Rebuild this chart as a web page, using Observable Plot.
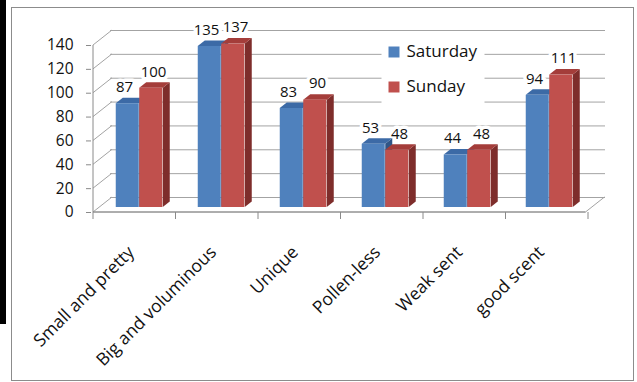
<!DOCTYPE html>
<html>
<head>
<meta charset="utf-8">
<script src="https://cdn.jsdelivr.net/npm/d3@7"></script>
<script src="https://cdn.jsdelivr.net/npm/@observablehq/plot@0.6"></script>
<style>
  html, body { margin: 0; padding: 0; background: #fff; }
  #wrap { position: relative; width: 637px; height: 382px; overflow: hidden; }
  #chart svg { display: block; }
  #edge { position: absolute; left: 0; top: 0; width: 6px; height: 324px; background: #000; }
  #border { position: absolute; left: 11px; top: 7px; width: 621px; height: 372px;
            border: 1px solid #8c8c8c; pointer-events: none; }
</style>
</head>
<body>
<div id="wrap">
  <div id="chart"></div>
  <div id="edge"></div>
  <div id="border"></div>
</div>
<script>
// Survey answers per flower attribute, counted on each day
const categories = ["Small and pretty", "Big and voluminous", "Unique", "Pollen-less", "Weak sent", "good scent"];
const saturday = [87, 135, 83, 53, 44, 94];
const sunday = [100, 137, 90, 48, 48, 111];
const seriesNames = ["Saturday", "Sunday"];
const yTicks = [0, 20, 40, 60, 80, 100, 120, 140];

const rows = categories.map((category, i) => ({category, saturday: saturday[i], sunday: sunday[i]}));

// Layout of the pseudo-3D box
const W = 637, H = 382;
const M = {left: 91, right: 51, top: 45, bottom: 170};
const BW = (W - M.left - M.right) / categories.length;   // band width
const WALL = {dx: 19, dy: -15};                           // back wall offset
const BAR = {dx: 5, dy: -5, w: 23.5};                      // bar placement inside the box
const FACE = {dx: 7, dy: -5.5};                           // bar depth
const FONT = "'Open Sans', sans-serif";

const palette = {
  Saturday: {front: "#4F81BD", top: "#3C6AA6", side: "#2F5587"},
  Sunday:   {front: "#C0504D", top: "#A43D3A", side: "#7E2D2B"}
};
const gridColor = "#A3A3A3";
const axisColor = "#8A8A8A";
const textColor = "#111111";

// Walls, floor and category boundary ticks
function boxLines(index, {x, y}) {
  const g = d3.create("svg:g").attr("fill", "none").attr("stroke-width", 1);
  const left = x(categories[0]);
  const right = x(categories[categories.length - 1]) + BW;
  const y0 = y(0);
  for (const t of yTicks) {
    g.append("line")
      .attr("x1", left).attr("y1", y(t))
      .attr("x2", left + WALL.dx).attr("y2", y(t) + WALL.dy)
      .attr("stroke", gridColor);
  }
  g.append("path")
    .attr("d", `M${left},${y0}H${right}l${WALL.dx},${WALL.dy}`)
    .attr("stroke", gridColor);
  g.append("line")
    .attr("x1", left).attr("y1", y0)
    .attr("x2", left).attr("y2", y(d3.max(yTicks)))
    .attr("stroke", axisColor);
  g.append("line")
    .attr("x1", left).attr("y1", y0).attr("x2", right).attr("y2", y0)
    .attr("stroke", axisColor);
  for (let i = 0; i <= categories.length; i++) {
    const xi = left + i * BW;
    g.append("line")
      .attr("x1", xi).attr("y1", y0).attr("x2", xi).attr("y2", y0 + 7)
      .attr("stroke", axisColor);
  }
  return g.node();
}

// Top and side faces of one series' columns
function columnFaces(values, name, slot) {
  const col = palette[name];
  return (index, {x, y}) => {
    const g = d3.create("svg:g");
    categories.forEach((c, i) => {
      const x0 = x(c) + BW / 2 + (slot === 0 ? -BAR.w : 0) + BAR.dx;
      const x1 = x0 + BAR.w;
      const yb = y(0) + BAR.dy;
      const yt = y(values[i]) + BAR.dy;
      g.append("path")
        .attr("d", `M${x1},${yb}L${x1 + FACE.dx},${yb + FACE.dy}L${x1 + FACE.dx},${yt + FACE.dy}L${x1},${yt}Z`)
        .attr("fill", col.side);
      g.append("path")
        .attr("d", `M${x0},${yt}L${x1},${yt}L${x1 + FACE.dx},${yt + FACE.dy}L${x0 + FACE.dx},${yt + FACE.dy}Z`)
        .attr("fill", col.top);
    });
    return g.node();
  };
}

function columns(key, name, slot) {
  return Plot.barY(rows, {
    x: "category",
    y: key,
    fill: palette[name].front,
    insetLeft: slot === 0 ? BW / 2 - BAR.w : BW / 2,
    insetRight: slot === 0 ? BW / 2 : BW / 2 - BAR.w,
    dx: BAR.dx,
    dy: BAR.dy
  });
}

// Value labels sit on a white halo that cuts through the gridlines
function valueLabels(key, offset) {
  return Plot.text(rows, {
    x: "category",
    y: key,
    text: d => String(d[key]),
    dx: offset,
    dy: BAR.dy - 16.5,
    fontSize: 15,
    fontFamily: FONT,
    fill: textColor,
    stroke: "white",
    strokeWidth: 7
  });
}

// Legend inside the plot area, on top of the back wall
const legendMarks = [
  Plot.frame({fill: "white", stroke: "none", insetLeft: 290, insetRight: 102, insetTop: -7, insetBottom: 106}),
  ...seriesNames.flatMap((name, i) => [
    Plot.dot([name], {
      frameAnchor: "top-left", symbol: "square", r: 6.2,
      fill: palette[name].front, stroke: "none",
      dx: 302.5, dy: 6.5 + i * 35
    }),
    Plot.text([name], {
      frameAnchor: "top-left", text: d => d, textAnchor: "start", lineAnchor: "middle",
      dx: 315, dy: 6 + i * 35, fontSize: 17, fontFamily: FONT, fill: textColor
    })
  ])
];

const chart = Plot.plot({
  width: W,
  height: H,
  marginLeft: M.left,
  marginRight: M.right,
  marginTop: M.top,
  marginBottom: M.bottom,
  style: {background: "transparent", fontFamily: FONT, color: textColor},
  x: {domain: categories, padding: 0, axis: null},
  y: {domain: [0, 140]},
  marks: [
    Plot.ruleY(yTicks, {dx: WALL.dx, dy: WALL.dy, stroke: gridColor}),
    boxLines,
    Plot.axisY(yTicks, {
      tickSize: 5, tickPadding: 13, fontSize: 15.5, fontFamily: FONT,
      stroke: axisColor, fill: textColor, label: null
    }),
    Plot.text(categories, {
      x: d => d, frameAnchor: "bottom", rotate: -45,
      textAnchor: "end", lineAnchor: "top",
      dx: -8, dy: 32, fontSize: 17.5, fontFamily: FONT, fill: textColor
    }),
    ...legendMarks,
    valueLabels("saturday", -10),
    valueLabels("sunday", 19),
    columnFaces(saturday, "Saturday", 0),
    columns("saturday", "Saturday", 0),
    columnFaces(sunday, "Sunday", 1),
    columns("sunday", "Sunday", 1)
  ]
});

document.getElementById("chart").appendChild(chart);
</script>
</body>
</html>
